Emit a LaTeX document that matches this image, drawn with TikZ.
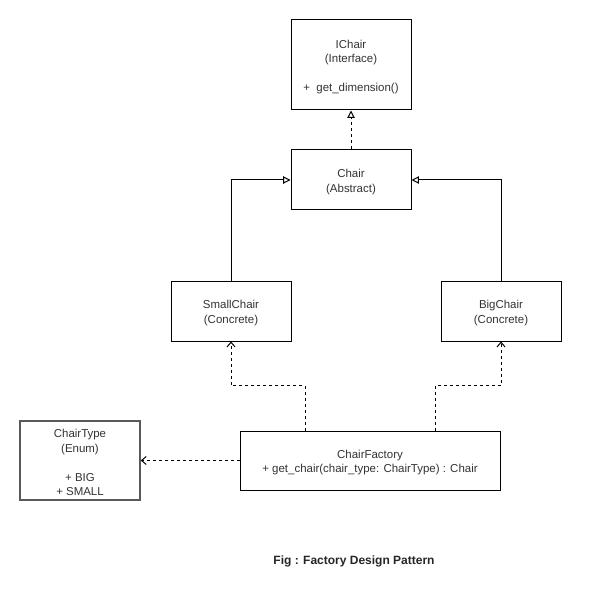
\documentclass[tikz,border=0pt]{standalone}
\usepackage{fontspec}
\setmainfont{Liberation Sans}
\usetikzlibrary{arrows.meta}
\newcommand{\topstrut}{\rule{0pt}{9.5pt}}
\begin{document}
\begin{tikzpicture}[x=0.75pt,y=-0.75pt,
  box/.style={draw=black,line width=0.75pt,rectangle,inner sep=0pt,align=center,
    font=\fontsize{8.6}{10.8}\selectfont,text=black!80},
  inh/.style={draw=black,line width=0.75pt,-{Triangle[open,length=5.5pt,width=5.5pt]}},
  dep/.style={draw=black,line width=0.75pt,dash pattern=on 2.25pt off 2.25pt,
    -{Straight Barb[length=3.5pt,width=6pt]}},
  impl/.style={inh,dash pattern=on 2.25pt off 2.25pt}]
\useasboundingbox[fill=white] (0,0) rectangle (591,591);
\node[box,minimum width=90pt,minimum height=67.5pt] (ichair) at (351,65)
  {\topstrut IChair\\(Interface)\\[10.8pt]+\ \ get\_dimension()};
\node[box,minimum width=90pt,minimum height=45pt] (chair) at (351,180)
  {\topstrut Chair\\(Abstract)};
\node[box,minimum width=90pt,minimum height=45pt] (small) at (231,311)
  {\topstrut SmallChair\\(Concrete)};
\node[box,minimum width=90pt,minimum height=45pt] (big) at (501,311)
  {\topstrut BigChair\\(Concrete)};
\node[box,draw=black!65,line width=1.2pt,minimum width=90pt,minimum height=59.25pt] (ctype) at (80,460.5)
  {\topstrut ChairType\\(Enum)\\[10.8pt]+ BIG\\+ SMALL};
\node[box,minimum width=195pt,minimum height=44.25pt] (factory) at (370,460.5)
  {\topstrut ChairFactory\\+ get\_chair(chair\_type: ChairType) : Chair};
\node[font=\bfseries\fontsize{9}{11}\selectfont,text=black!85] (cap) at (354,561)
  {Fig : Factory Design Pattern};
\draw[impl] (chair.north) -- (ichair.south);
\draw[inh] (small.north) |- (chair.west);
\draw[inh] (big.north) |- (chair.east);
\draw[dep] ([xshift=-48.75pt]factory.north) -- ++(0,-45) -| (small.south);
\draw[dep] ([xshift=48.75pt]factory.north) -- ++(0,-45) -| (big.south);
\draw[dep] (factory.west) -- (ctype.east);
\end{tikzpicture}
\end{document}
